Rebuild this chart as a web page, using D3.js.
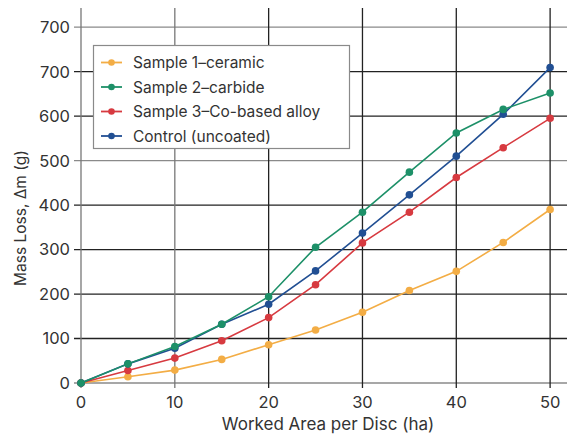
<!DOCTYPE html>
<html>
<head>
<meta charset="utf-8">
<script src="https://cdn.jsdelivr.net/npm/d3@7"></script>
<style>
  body { margin: 0; background: #fff; }
  text { font-family: "Inter", "DejaVu Sans", sans-serif; fill: #333; }
</style>
</head>
<body>
<svg id="chart" width="567" height="437"></svg>
<script>
const area = [0, 5, 10, 15, 20, 25, 30, 35, 40, 45, 50];
const ceramic = [0, 14, 29, 53, 86, 119, 159, 208, 251, 316, 390];
const carbide = [0, 43, 82, 132, 194, 305, 384, 474, 562, 615, 652];
const coAlloy = [0, 28, 56, 95, 147, 221, 315, 384, 462, 529, 595];
const control = [0, 43, 78, 132, 177, 252, 337, 423, 510, 604, 709];

const seriesNames = ['Sample 1\u2013ceramic', 'Sample 2\u2013carbide', 'Sample 3\u2013Co-based alloy', 'Control (uncoated)'];
const seriesColors = ['#f3ad45', '#1d9068', '#d73a40', '#214f93'];

const xTicks = [0, 10, 20, 30, 40, 50];
const yTicks = [0, 100, 200, 300, 400, 500, 600, 700, 800];
const yTickLabels = ['0', '100', '200', '300', '400', '500', '600', '700', '700'];

const margin = {top: 8, right: 0, bottom: 54, left: 81};
const svgWidth = 567, svgHeight = 437;

const svg = d3.select('#chart');

const x = d3.scaleLinear()
    .domain([0, 51.8])
    .range([margin.left, svgWidth - margin.right]);

const y = d3.scaleLinear()
    .domain([0, 843])
    .range([svgHeight - margin.bottom, margin.top]);

// grid
svg.append('g')
    .selectAll('line')
    .data(yTicks)
    .join('line')
    .attr('x1', margin.left - 7)
    .attr('x2', svgWidth)
    .attr('y1', d => y(d))
    .attr('y2', d => y(d))
    .attr('stroke', (d, i) => (i === 0 || i === 8 || i === 5) ? '#8a8a8a' : '#222')
    .attr('stroke-width', 1.3);

svg.append('g')
    .selectAll('line')
    .data(xTicks)
    .join('line')
    .attr('x1', d => x(d))
    .attr('x2', d => x(d))
    .attr('y1', margin.top)
    .attr('y2', y(0) + 5)
    .attr('stroke', (d, i) => (i === 0 || i === 1) ? '#777' : '#222')
    .attr('stroke-width', 1.3);

// tick labels
svg.append('g')
    .selectAll('text')
    .data(yTicks)
    .join('text')
    .attr('x', margin.left - 11)
    .attr('y', d => y(d))
    .attr('dy', '0.36em')
    .attr('text-anchor', 'end')
    .attr('font-size', '16.5px')
    .text((d, i) => yTickLabels[i]);

svg.append('g')
    .selectAll('text')
    .data(xTicks)
    .join('text')
    .attr('x', d => x(d))
    .attr('y', 408)
    .attr('text-anchor', 'middle')
    .attr('font-size', '16.5px')
    .text(d => d);

svg.append('text')
    .attr('x', 328)
    .attr('y', 430)
    .attr('text-anchor', 'middle')
    .attr('font-size', '17px')
    .text('Worked Area per Disc (ha)');

svg.append('text')
    .attr('transform', 'translate(26,218) rotate(-90)')
    .attr('text-anchor', 'middle')
    .attr('font-size', '15.5px')
    .text('Mass Loss, \u0394m (g)');

// series
const allSeries = [ceramic, carbide, coAlloy, control];
const drawOrder = [0, 2, 3, 1];

const line = d3.line()
    .x((d, i) => x(area[i]))
    .y(d => y(d));

drawOrder.forEach(k => {
    const s = svg.append('g');
    s.append('path')
        .datum(allSeries[k])
        .attr('d', line)
        .attr('fill', 'none')
        .attr('stroke', seriesColors[k])
        .attr('stroke-width', 1.6);
    s.selectAll('circle')
        .data(allSeries[k])
        .join('circle')
        .attr('cx', (d, i) => x(area[i]))
        .attr('cy', d => y(d))
        .attr('r', 3.8)
        .attr('fill', seriesColors[k]);
});

// legend
const legend = svg.append('g');
legend.append('rect')
    .attr('x', 93.5)
    .attr('y', 45.5)
    .attr('width', 256)
    .attr('height', 103)
    .attr('fill', '#fff')
    .attr('stroke', '#8a8a8a')
    .attr('stroke-width', 1.2);

const rowY = d3.scalePoint()
    .domain(d3.range(seriesNames.length))
    .range([62.5, 136]);

const rows = legend.selectAll('.row')
    .data(seriesNames)
    .join('g')
    .attr('class', 'row')
    .attr('transform', (d, i) => `translate(0,${rowY(i)})`);

rows.append('line')
    .attr('x1', 101)
    .attr('x2', 122)
    .attr('stroke', (d, i) => seriesColors[i])
    .attr('stroke-width', 1.8);

rows.append('circle')
    .attr('cx', 111.5)
    .attr('r', 3.3)
    .attr('fill', (d, i) => seriesColors[i]);

rows.append('text')
    .attr('x', 133)
    .attr('dy', '0.36em')
    .attr('font-size', '15.5px')
    .text(d => d);
</script>
</body>
</html>
